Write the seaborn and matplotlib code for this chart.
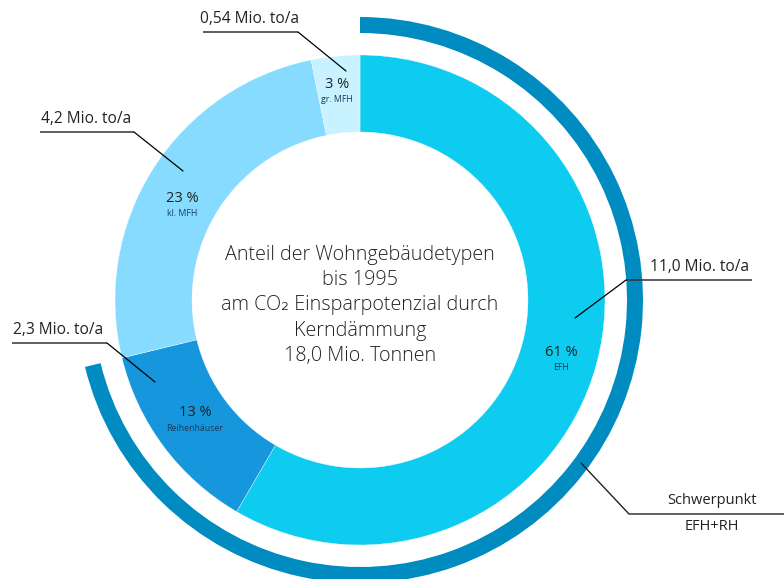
import matplotlib
matplotlib.use('Agg')
import matplotlib.pyplot as plt
import seaborn as sns
from matplotlib.patches import Wedge

sns.set_theme(style='white')
plt.rcParams['font.family'] = ['Open Sans', 'DejaVu Sans']

# ---- data ----
categories = ['EFH', 'Reihenhäuser', 'kl. MFH', 'gr. MFH']
shares = [58.4, 12.8, 25.6, 3.2]          # wedge sizes as drawn (%)
pct_labels = ['61 %', '13 %', '23 %', '3 %']
amount_labels = ['11,0 Mio. to/a', '2,3 Mio. to/a', '4,2 Mio. to/a', '0,54 Mio. to/a']
highlight = ['EFH', 'Reihenhäuser']
title_lines = ['Anteil der Wohngebäudetypen', 'bis 1995',
               'am CO\u2082 Einsparpotenzial durch', 'Kerndämmung', '18,0 Mio. Tonnen']
highlight_label = ['Schwerpunkt', 'EFH+RH']

colors = ['#0ECBF0', '#1696DC', '#86DBFF', '#C8F2FF']
arc_color = '#008CC0'

H = 579
def Y(y):
    return H - y

fig = plt.figure(figsize=(7.84, 5.79), dpi=100)
ax = fig.add_axes([0, 0, 1, 1])
cx, cy = 360, Y(300)
R, W = 245, 77
ax.pie(shares, colors=colors, startangle=90, counterclock=False, radius=R,
       center=(cx, cy), wedgeprops=dict(width=W, edgecolor='white', linewidth=0.25))
ax.set_xlim(0, 784)
ax.set_ylim(0, H)
ax.axis('off')

# outer arc for highlighted group
total = sum(shares)
hl_share = sum(s for c, s in zip(categories, shares) if c in highlight)
theta1 = 90 - 360 * hl_share / total
ax.add_patch(Wedge((cx, cy), 283, theta1, 90, width=16, color=arc_color, lw=0))

# center text
tc = '#222222'
for i, line in enumerate(title_lines):
    ax.text(cx, Y(255 + i * 25.2), line, ha='center', va='center', fontsize=14.2,
            color=tc, fontweight='light')

# percentage labels inside wedges
pct_pos = [(561, 352), (195, 413), (182, 198), (337, 84)]
for (x, y), p, c in zip(pct_pos, pct_labels, categories):
    ax.text(x, Y(y), p, ha='center', va='center', fontsize=10.5, color=tc)
    ax.text(x, Y(y + 15.5), c, ha='center', va='center', fontsize=6.3, color='#1a3a5a')

# amount labels with leader lines
lab_cfg = [
    dict(tx=700, ty=267, ux0=626, ux1=752, uy=280, end=(575, 318), start=626),
    dict(tx=58, ty=330, ux0=12, ux1=107, uy=343, end=(155, 382), start=107),
    dict(tx=86, ty=119, ux0=40, ux1=134, uy=132, end=(183, 171), start=134),
    dict(tx=250, ty=19, ux0=203, ux1=298, uy=32, end=(346, 71), start=298),
]
for cfg, lab in zip(lab_cfg, amount_labels):
    ax.text(cfg['tx'], Y(cfg['ty']), lab, ha='center', va='center', fontsize=11.2, color=tc)
    ax.plot([cfg['ux0'], cfg['ux1']], [Y(cfg['uy'])] * 2, color='#333333', lw=1.1,
            solid_capstyle='butt')
    ax.plot([cfg['start'], cfg['end'][0]], [Y(cfg['uy']), Y(cfg['end'][1])],
            color='black', lw=0.9)

# highlight callout
ax.plot([581, 629, 784], [Y(463), Y(514), Y(514)], color='#222222', lw=1.0)
ax.text(712, Y(501), highlight_label[0], ha='center', va='center', fontsize=10.5, color=tc)
ax.text(712, Y(527), highlight_label[1], ha='center', va='center', fontsize=10.5, color=tc)

fig.savefig('out.png', dpi=100, facecolor='white')
